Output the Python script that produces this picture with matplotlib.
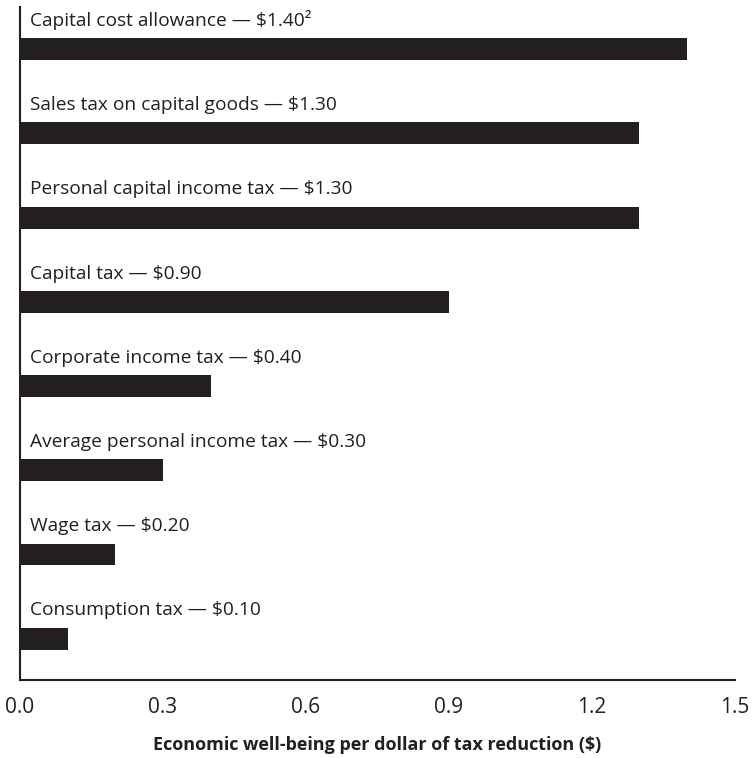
import matplotlib.pyplot as plt

# data, top to bottom
labels = [
    "Capital cost allowance — $1.40²",
    "Sales tax on capital goods — $1.30",
    "Personal capital income tax — $1.30",
    "Capital tax — $0.90",
    "Corporate income tax — $0.40",
    "Average personal income tax — $0.30",
    "Wage tax — $0.20",
    "Consumption tax — $0.10",
]
values = [1.40, 1.30, 1.30, 0.90, 0.40, 0.30, 0.20, 0.10]
xticks = [0.0, 0.3, 0.6, 0.9, 1.2, 1.5]

plt.rcParams["font.family"] = ["Open Sans", "DejaVu Sans"]
dark = "#231f20"

fig = plt.figure(figsize=(7.52, 7.58), dpi=100)
ax = fig.add_axes([0.0266, 0.1029, 0.9504, 0.8879])

n = len(values)
pos = [n - 1 - i for i in range(n)]
ax.barh(pos, values, height=0.26, color=dark)

for p, lab in zip(pos, labels):
    ax.annotate(lab, xy=(0, p + 0.13), xytext=(7, 6), textcoords="offset points",
                ha="left", va="bottom", fontsize=13.8, color=dark)

ax.set_xlim(0, 1.5)
ax.set_ylim(-0.49, 7.5)
ax.set_xticks(xticks)
ax.set_xticklabels([f"{t:.1f}" for t in xticks], fontsize=15, color=dark)
ax.set_yticks([])
ax.tick_params(axis="x", length=0, pad=12)
ax.set_xlabel("Economic well-being per dollar of tax reduction ($)",
              fontsize=13, fontweight="bold", color=dark, labelpad=13)

for s in ["top", "right"]:
    ax.spines[s].set_visible(False)
for s in ["left", "bottom"]:
    ax.spines[s].set_color(dark)
    ax.spines[s].set_linewidth(1.5)

fig.savefig("out.png", dpi=100)
